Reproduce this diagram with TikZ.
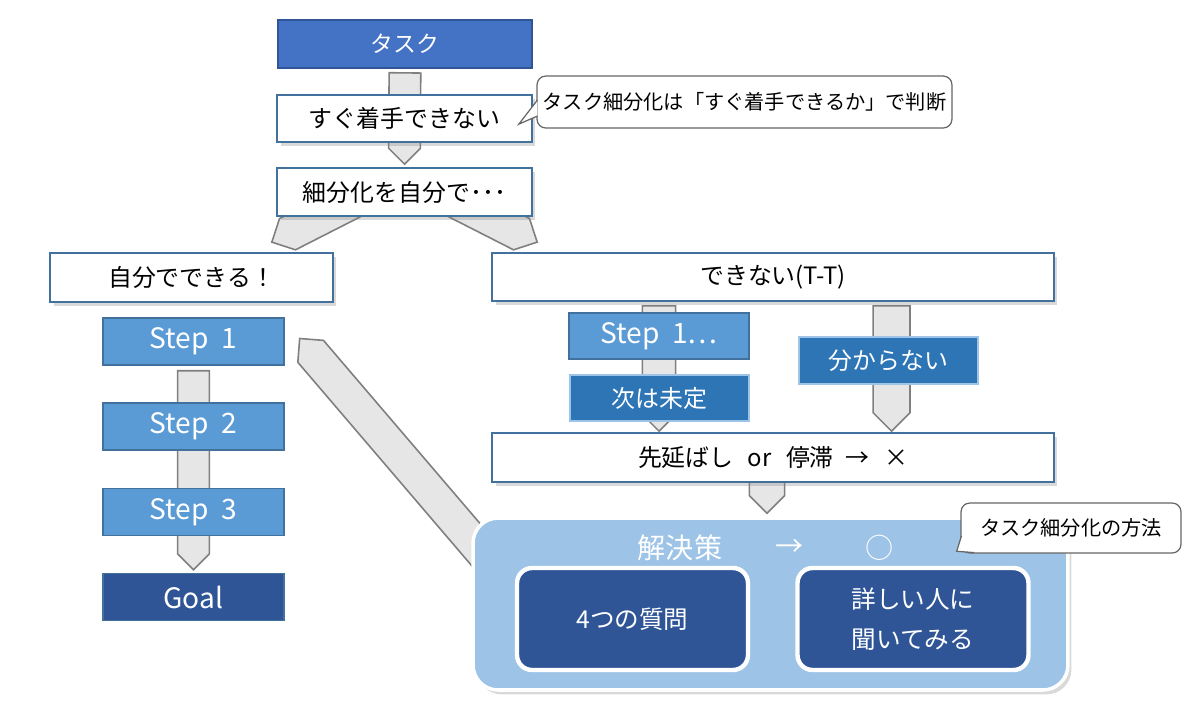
\documentclass[tikz,border=0pt]{standalone}
\usepackage{fontspec}
\setmainfont{Noto Sans CJK JP}
\usepackage{tikz}
\usetikzlibrary{calc}
\usetikzlibrary{shadows}
\usetikzlibrary{backgrounds}
\definecolor{taskblue}{HTML}{4472C4}
\definecolor{darkblue}{HTML}{2F5597}
\definecolor{lineblue}{HTML}{41719C}
\definecolor{stepblue}{HTML}{5B9BD5}
\definecolor{midblue}{HTML}{2E75B6}
\definecolor{paleblue}{HTML}{9DC3E6}
\definecolor{arrowgray}{HTML}{E7E6E6}
\definecolor{edgegray}{HTML}{7F7F7F}
\tikzset{
    boxnode/.style = {align=center, inner sep=0pt, text centered, font=\fontsize{13.6pt}{16pt}\selectfont},
    task_box/.style = {boxnode, rectangle, text=white, draw=darkblue, fill=taskblue, line width=1pt, minimum width=5.08cm, minimum height=0.96cm, font=\fontsize{13pt}{16pt}\selectfont},
    white_box/.style = {boxnode, rectangle, text=black, draw=lineblue, fill=white, line width=1pt, drop shadow={opacity=0.3, shadow xshift=2pt, shadow yshift=-2pt}},
    step_box/.style = {boxnode, rectangle, text=white, draw=lineblue, fill=stepblue, line width=0.8pt, minimum width=3.62cm, minimum height=0.94cm, font=\fontsize{16pt}{18pt}\selectfont},
    goal_box/.style = {step_box, fill=darkblue, draw=lineblue},
    mid_box/.style = {boxnode, rectangle, text=white, draw=paleblue, fill=midblue, line width=1pt, minimum width=3.58cm, minimum height=0.93cm},
    solution_box/.style = {rectangle, draw=white, fill=paleblue, line width=2pt, rounded corners=0.5cm, minimum width=11.9cm, minimum height=3.44cm, drop shadow={opacity=0.3, shadow xshift=2pt, shadow yshift=-2.5pt}},
    answer_box/.style = {boxnode, rectangle, text=white, draw=white, fill=darkblue, line width=2.5pt, rounded corners=0.3cm, minimum width=4.62cm, minimum height=2.04cm, font=\fontsize{14pt}{22.7pt}\selectfont},
    title_text/.style = {boxnode, text=white, font=\fontsize{16pt}{18pt}\selectfont},
    callout_box/.style = {boxnode, rectangle, draw=edgegray!80!black, fill=white, line width=0.7pt, rounded corners=5pt, font=\fontsize{11.5pt}{14pt}\selectfont},
    callout_tip/.style = {draw=edgegray!80!black, line width=0.7pt, line join=miter},
    block_arrow/.style = {draw=edgegray, fill=arrowgray, line width=0.9pt, line join=miter}
}
\newcommand{\blockarrow}[3]{%
    \draw[block_arrow] (#2) -- ($(#2)!1.4142*#3!45:(#1)$) -- ($(#1)!#3!-90:(#2)$)
        -- ($(#1)!#3!90:(#2)$) -- ($(#2)!1.4142*#3!-45:(#1)$) -- cycle;
}
\newcommand{\callouttip}[3]{%
    \fill[white] (#1) -- (#2) -- (#3) -- cycle;
    \draw[callout_tip] (#1) -- (#2) -- (#3);
}

\begin{document}
\begin{tikzpicture}[x=0.02cm, y=-0.02cm]
    \useasboundingbox (0,0) rectangle (1200,718);

    \node[task_box] (task) at (405,44) {タスク};
    \node[white_box, minimum width=5.1cm, minimum height=0.94cm] (notnow) at (404.5,118.5) {すぐ着手できない};
    \node[white_box, minimum width=5.1cm, minimum height=0.96cm] (split) at (404.5,192) {細分化を自分で･･･};
    \node[white_box, minimum width=5.66cm, minimum height=0.98cm] (self) at (191.5,277.5) {自分でできる！};
    \node[white_box, minimum width=11.24cm, minimum height=0.96cm] (cannot) at (773,277) {できない(T-T)};

    \node[step_box] (s1) at (193.5,341.5) {Step\hspace{0.45em}1};
    \node[step_box] (s2) at (193.5,426.5) {Step\hspace{0.45em}2};
    \node[step_box] (s3) at (193.5,512) {Step\hspace{0.45em}3};
    \node[goal_box] (goal) at (193.5,597) {Goal};

    \node[step_box, minimum width=3.6cm, minimum height=0.92cm] (s1dots) at (659,336) {Step\hspace{0.45em}1…};
    \node[mid_box] (undecided) at (659.5,398) {次は未定};
    \node[mid_box] (unknown) at (888.5,360.5) {分からない};
    \node[white_box, minimum width=11.24cm, minimum height=0.98cm] (delay) at (773,457.5)
        {先延ばし\hspace{0.6em}or\hspace{0.6em}停滞\hspace{0.5em}→\hspace{0.6em}×};

    \node[solution_box] (solution) at (770.5,604) {};
    \node[title_text] (sol_title) at (680,548) {解決策};
    \node[title_text] (sol_arrow) at (790,548) {→};
    \node[title_text] (sol_ok) at (880,548) {○};
    \node[answer_box] (q4) at (632.5,619) {4つの質問};
    \node[answer_box] (ask) at (913,619) {詳しい人に\\聞いてみる};

    \node[callout_box, minimum width=8.3cm, minimum height=1.04cm] (hint1) at (744.5,102)
        {タスク細分化は「すぐ着手できるか」で判断};
    \node[callout_box, minimum width=4.4cm, minimum height=1cm] (hint2) at (1071,528)
        {タスク細分化の方法};

    \coordinate (h1top) at ($(hint1.west)+(1,-2)$);
    \coordinate (h1tip) at ($(notnow.north east)+(-14,30)$);
    \coordinate (h1bot) at ($(hint1.west)+(1,14)$);
    \coordinate (h2top) at ($(hint2.west)+(1,8)$);
    \coordinate (h2tip) at ($(solution.north east)+(-113,35)$);
    \coordinate (h2bot) at ($(hint2.south west)+(14,-1)$);
    \callouttip{h1top}{h1tip}{h1bot}
    \callouttip{h2top}{h2tip}{h2bot}

    \coordinate (a1tail) at ($(task.south)+(0,4)$);
    \coordinate (a2tip) at ($(split.north)+(0,-3)$);
    \coordinate (a3tail) at ($(split.center)+(-44,5)$);
    \coordinate (a3tip) at ($(self.north east)+(-62,-10)$);
    \coordinate (a4tail) at ($(split.center)+(44,5)$);
    \coordinate (a4tip) at ($(cannot.north west)+(46,-10)$);
    \coordinate (s1tail) at ($(s1.south)+(0,5)$);
    \coordinate (goaltip) at ($(goal.north)+(0,-3)$);
    \coordinate (lefttail) at ($(cannot.south -| s1dots.center)+(0,4)$);
    \coordinate (lefttip) at ($(delay.north -| s1dots.center)+(0,-1)$);
    \coordinate (righttail) at ($(cannot.south -| unknown.center)+(3,4)$);
    \coordinate (righttip) at ($(delay.north -| unknown.center)+(3,-1)$);
    \coordinate (soltail) at ($(delay.south)+(-6,-10)$);
    \coordinate (soltip) at ($(solution.north)+(-3.5,-3)$);
    \coordinate (backtail) at ($(solution.west)+(22,-39)$);
    \coordinate (backtip) at ($(s1.east)+(15,-3)$);

    \begin{scope}[on background layer]
        \blockarrow{a1tail}{notnow.center}{9pt}
        \blockarrow{notnow.center}{a2tip}{9pt}
        \blockarrow{a3tail}{a3tip}{10pt}
        \blockarrow{a4tail}{a4tip}{10pt}
        \blockarrow{s1tail}{s2.center}{9pt}
        \blockarrow{s2.center}{s3.center}{9pt}
        \blockarrow{s3.center}{goaltip}{9pt}
        \blockarrow{lefttail}{lefttip}{9.5pt}
        \blockarrow{righttail}{righttip}{10.5pt}
        \blockarrow{soltail}{soltip}{10pt}
        \blockarrow{backtail}{backtip}{9.6pt}
    \end{scope}
\end{tikzpicture}
\end{document}
